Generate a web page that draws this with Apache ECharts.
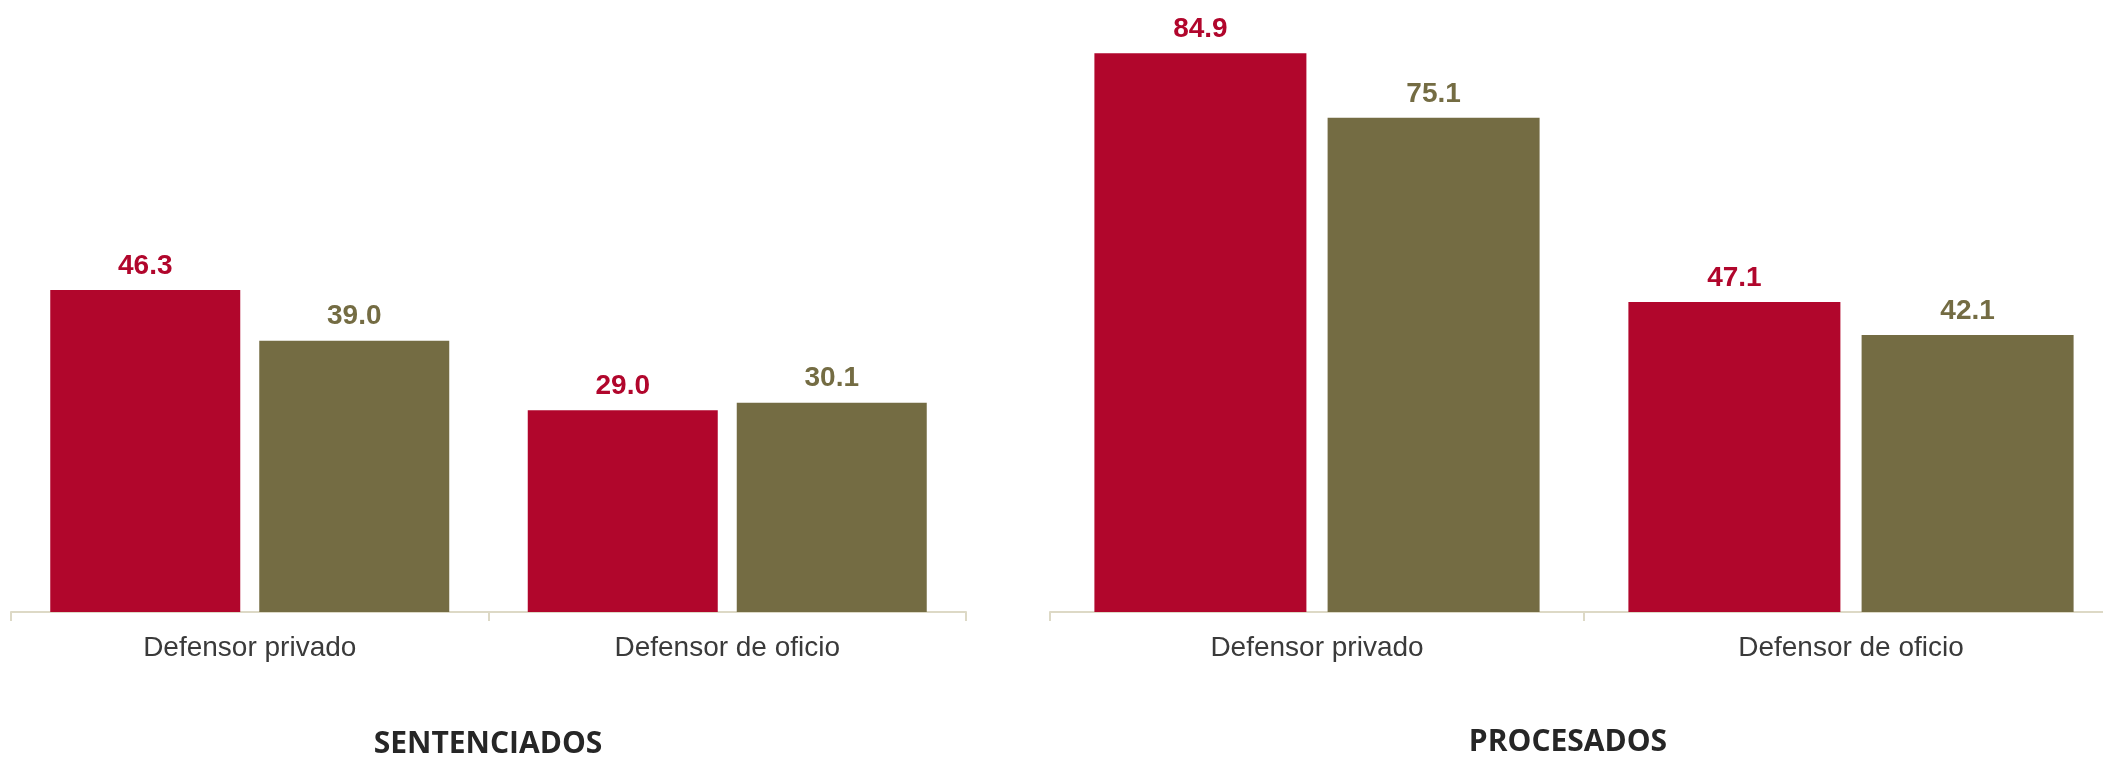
<!DOCTYPE html>
<html>
<head>
<meta charset="utf-8">
<script src="https://cdn.jsdelivr.net/npm/echarts@6/dist/echarts.min.js"></script>
<style>
html,body{margin:0;padding:0;background:#fff;overflow:hidden;width:2103px;height:758px;}
#chart{width:2118px;height:758px;}
</style>
</head>
<body>
<div id="chart"></div>
<script>
const categories = ['Defensor privado', 'Defensor de oficio'];
const panelTitles = ['SENTENCIADOS', 'PROCESADOS'];
const sentenciadosRed = [46.3, 29.0];
const sentenciadosOlive = [39.0, 30.1];
const procesadosRed = [84.9, 47.1];
const procesadosOlive = [75.1, 42.1];

const RED = '#B1062C';
const OLIVE = '#746C43';
const AXIS = '#DDD9C6';

function xAxis(gridIndex) {
  return {
    type: 'category', gridIndex: gridIndex, data: categories,
    axisLine: {show: true, lineStyle: {color: AXIS, width: 2}},
    axisTick: {show: true, length: 9, lineStyle: {color: AXIS, width: 2}},
    axisLabel: {color: '#3A3A3A', fontFamily: 'Liberation Sans', fontSize: 28, margin: 22}
  };
}
function yAxis(gridIndex, max) {
  return {type: 'value', gridIndex: gridIndex, min: 0, max: max, show: false, splitLine: {show: false}};
}
function barSeries(name, idx, data, color, width) {
  return {
    name: name, type: 'bar', xAxisIndex: idx, yAxisIndex: idx, data: data,
    barWidth: width, barGap: '10%',
    itemStyle: {color: color},
    label: {show: true, position: 'top', distance: 10, color: color,
      fontFamily: 'Liberation Sans', fontWeight: 'bold', fontSize: 28,
      formatter: p => p.value.toFixed(1)}
  };
}

const chart = echarts.init(document.getElementById('chart'));
chart.setOption({
  animation: false,
  title: [
    {text: panelTitles[0], left: 483, top: 724, textAlign: 'center',
     textStyle: {fontFamily: 'Open Sans', fontWeight: 'bold', fontSize: 30, color: '#262626'}},
    {text: panelTitles[1], left: 1563, top: 722, textAlign: 'center',
     textStyle: {fontFamily: 'Open Sans', fontWeight: 'bold', fontSize: 30, color: '#262626'}}
  ],
  grid: [
    {left: 11, top: 0, width: 955, height: 612, containLabel: false},
    {left: 1050, top: 0, width: 1068, height: 612, containLabel: false}
  ],
  xAxis: [xAxis(0), xAxis(1)],
  yAxis: [yAxis(0, 88), yAxis(1, 93)],
  series: [
    barSeries('Serie 1', 0, sentenciadosRed, RED, 190),
    barSeries('Serie 2', 0, sentenciadosOlive, OLIVE, 190),
    barSeries('Serie 1', 1, procesadosRed, RED, 212),
    barSeries('Serie 2', 1, procesadosOlive, OLIVE, 212)
  ]
});
</script>
</body>
</html>
